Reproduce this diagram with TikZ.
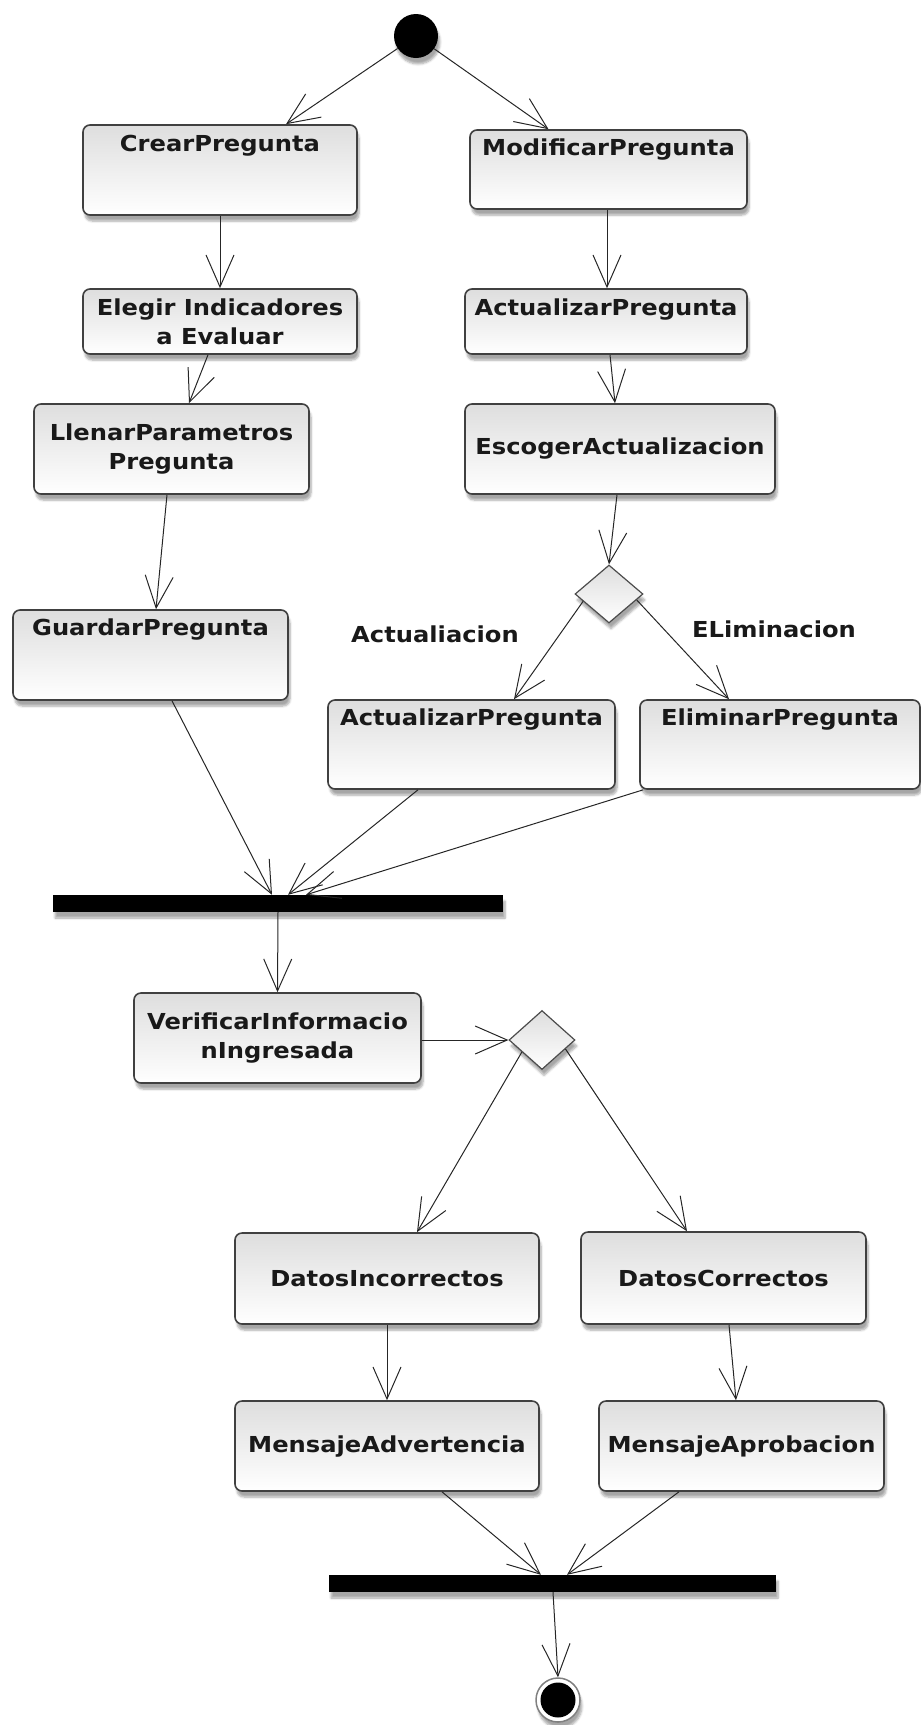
\documentclass[tikz,border=0pt]{standalone}
\usepackage{fontspec}
\setmainfont{DejaVu Sans}[FakeStretch=1.1]
\usetikzlibrary{arrows.meta,shapes.geometric,shadows.blur,calc}

\begin{document}
\begin{tikzpicture}[x=1pt,y=-1pt,
  font=\fontsize{22}{29}\selectfont\bfseries,
  softshadow/.style={blur shadow={shadow xshift=2pt, shadow yshift=-6pt, shadow opacity=35, shadow blur steps=6}},
  act/.style={draw=black!75, line width=1.6pt, rounded corners=7pt,
    top color=black!13, bottom color=white, inner sep=0pt, align=center,
    text=black!90, softshadow},
  flow/.style={draw=black!85, line width=1pt,
    -{Straight Barb[length=32pt,width=28pt,line width=1pt]}},
  syncbar/.style={fill=black, draw=none, inner sep=0pt, softshadow},
  decision/.style={diamond, draw=black!70, line width=1.2pt,
    top color=black!13, bottom color=white, inner sep=0pt, softshadow},
  guardlabel/.style={text=black!90, inner sep=0pt}
]
\useasboundingbox (0,0) rectangle (921,1725);

% initial and final states
\node[circle, fill=black, minimum size=44pt, inner sep=0pt, softshadow] (start) at (416,36) {};
\node[circle, draw=black!50, line width=1.5pt, fill=white, minimum size=44pt, inner sep=0pt, softshadow,
  path picture={\fill[black] (path picture bounding box.center) circle (17.5pt);}] (final) at (558,1700) {};

% left branch: create a question
\node[act, minimum width=274pt, text height=26pt, text depth=64pt] (crear) at (220,170) {CrearPregunta};
\node[act, minimum width=274pt, minimum height=65pt] (elegir) at (220,321.5) {Elegir Indicadores\\a Evaluar};
\node[act, minimum width=275pt, minimum height=90pt] (llenar) at (171.5,449) {LlenarParametros\\Pregunta};
\node[act, minimum width=275pt, text height=25pt, text depth=65pt] (guardar) at (150.5,655) {GuardarPregunta};

% right branch: modify a question
\node[act, minimum width=277pt, text height=25pt, text depth=54pt] (modificar) at (608.5,169.5) {ModificarPregunta};
\node[act, minimum width=282pt, text height=26pt, text depth=39pt] (actualizarA) at (606,321.5) {ActualizarPregunta};
\node[act, minimum width=310pt, minimum height=90pt] (escoger) at (620,449) {EscogerActualizacion};
\node[decision, minimum width=68pt, minimum height=58pt] (dec1) at (609,594) {};
\node[act, minimum width=287pt, text height=25pt, text depth=64pt] (actualizarB) at (471.5,744.5) {ActualizarPregunta};
\node[act, minimum width=280pt, text height=25pt, text depth=64pt] (eliminar) at (780,744.5) {EliminarPregunta};
\node[guardlabel] (lblact) at (435,634) {Actualiacion};
\node[guardlabel] (lblelim) at (774,629) {ELiminacion};

% join and verification
\node[syncbar, minimum width=450pt, minimum height=17pt] (join1) at (278,903.5) {};
\node[act, minimum width=287pt, minimum height=90pt] (verificar) at (277.5,1038) {VerificarInformacio\\nIngresada};
\node[decision, minimum width=66pt, minimum height=59pt] (dec2) at (542,1040) {};

\node[act, minimum width=304pt, minimum height=91pt] (datosInc) at (387,1278.5) {DatosIncorrectos};
\node[act, minimum width=285pt, minimum height=92pt] (datosCor) at (723.5,1278) {DatosCorrectos};
\node[act, minimum width=304pt, minimum height=90pt] (msgAdv) at (387,1446) {MensajeAdvertencia};
\node[act, minimum width=285pt, minimum height=90pt] (msgApr) at (741.5,1446) {MensajeAprobacion};
\node[syncbar, minimum width=447pt, minimum height=17pt] (join2) at (552.5,1583.5) {};

% transitions
\draw[flow] (start) -- ([xshift=66pt]crear.north);
\draw[flow] (start) -- ([xshift=-60pt]modificar.north);
\draw[flow] (crear) -- (elegir);
\draw[flow] ([xshift=-1.5pt]modificar.south) -- ([xshift=1pt]actualizarA.north);
\draw[flow] ([xshift=-12pt]elegir.south) -- ([xshift=17.5pt]llenar.north);
\draw[flow] ([xshift=4pt]actualizarA.south) -- ([xshift=-5pt]escoger.north);
\draw[flow] ([xshift=-4.5pt]llenar.south) -- ([xshift=5.5pt]guardar.north);
\draw[flow] ([xshift=-3pt]escoger.south) -- (dec1.north);
\draw[flow] ($(dec1.west)!0.25!(dec1.south)$) -- ([xshift=42.5pt]actualizarB.north);
\draw[flow] ($(dec1.east)!0.2!(dec1.south)$) -- ([xshift=-51pt]eliminar.north);
\draw[flow] ([xshift=21.5pt]guardar.south) -- ([xshift=-6pt]join1.north);
\draw[flow] ([xshift=-53.5pt]actualizarB.south) -- ([xshift=10pt]join1.north);
\draw[flow] ([xshift=4pt]eliminar.south west) -- ([xshift=28pt]join1.north);
\draw[flow] (join1.south) -- (verificar.north);
\draw[flow] (verificar.east |- dec2.west) -- (dec2.west);
\draw[flow] ($(dec2.west)!0.4!(dec2.south)$) -- ([xshift=30pt]datosInc.north);
\draw[flow] ($(dec2.east)!0.3!(dec2.south)$) -- ([xshift=-36.5pt]datosCor.north);
\draw[flow] (datosInc) -- (msgAdv);
\draw[flow] ([xshift=5.5pt]datosCor.south) -- ([xshift=-5.5pt]msgApr.north);
\draw[flow] ([xshift=55pt]msgAdv.south) -- ([xshift=-11.5pt]join2.north);
\draw[flow] ([xshift=-62.5pt]msgApr.south) -- ([xshift=14.5pt]join2.north);
\draw[flow] ([xshift=0.5pt]join2.south) -- (final.north);
\end{tikzpicture}
\end{document}
